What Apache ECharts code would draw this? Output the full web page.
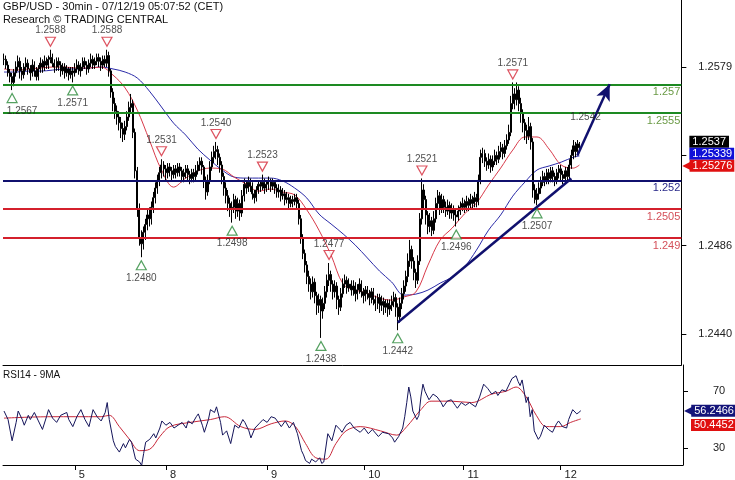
<!DOCTYPE html>
<html><head><meta charset="utf-8">
<script src="https://cdn.jsdelivr.net/npm/echarts@6/dist/echarts.min.js"></script>
<style>html,body{margin:0;padding:0;background:#fff}#c{width:735px;height:480px}</style>
</head><body><div id="c"></div>
<script>
// ---- data ----
const closes=[1.2583,1.2580,1.2576,1.2574,1.2571,1.2576,1.2579,1.2582,1.2577,1.2575,
1.2579,1.2581,1.2578,1.2576,1.2580,1.2577,1.2574,1.2578,1.2581,1.2579,
1.2582,1.2580,1.2583,1.2584,1.2581,1.2579,1.2582,1.2580,1.2577,1.2579,
1.2576,1.2578,1.2575,1.2577,1.2576,1.2578,1.2580,1.2577,1.2579,1.2582,
1.2580,1.2578,1.2581,1.2583,1.2580,1.2582,1.2584,1.2582,1.2580,1.2583,
1.2581,1.2585,1.2577,1.2566,1.2560,1.2556,1.2553,1.2550,1.2547,1.2544,
1.2548,1.2553,1.2558,1.2560,1.2545,1.2525,1.2505,1.2490,1.2487,1.2493,
1.2497,1.2502,1.2500,1.2506,1.2511,1.2516,1.2520,1.2524,1.2528,1.2526,
1.2524,1.2527,1.2525,1.2523,1.2526,1.2524,1.2527,1.2525,1.2522,1.2524,
1.2526,1.2523,1.2521,1.2524,1.2522,1.2525,1.2528,1.2530,1.2527,1.2520,
1.2514,1.2520,1.2527,1.2532,1.2535,1.2536,1.2532,1.2528,1.2522,1.2516,
1.2512,1.2508,1.2505,1.2506,1.2510,1.2504,1.2508,1.2503,1.2512,1.2518,
1.2516,1.2519,1.2517,1.2513,1.2511,1.2515,1.2518,1.2517,1.2519,1.2516,
1.2518,1.2520,1.2517,1.2519,1.2516,1.2514,1.2515,1.2512,1.2513,1.2510,
1.2511,1.2508,1.2510,1.2509,1.2511,1.2508,1.2500,1.2490,1.2482,1.2476,
1.2470,1.2466,1.2462,1.2467,1.2460,1.2455,1.2458,1.2452,1.2456,1.2462,
1.2468,1.2471,1.2466,1.2462,1.2465,1.2458,1.2454,1.2461,1.2466,1.2468,
1.2464,1.2466,1.2463,1.2465,1.2461,1.2463,1.2466,1.2462,1.2460,1.2463,
1.2461,1.2459,1.2462,1.2458,1.2456,1.2459,1.2455,1.2457,1.2454,1.2456,
1.2453,1.2455,1.2457,1.2459,1.2454,1.2449,1.2456,1.2461,1.2465,1.2470,
1.2478,1.2484,1.2478,1.2472,1.2468,1.2478,1.2500,1.2515,1.2510,1.2502,
1.2496,1.2499,1.2494,1.2500,1.2508,1.2512,1.2505,1.2510,1.2506,1.2504,
1.2507,1.2503,1.2505,1.2502,1.2501,1.2504,1.2506,1.2508,1.2506,1.2509,
1.2507,1.2510,1.2508,1.2511,1.2509,1.2520,1.2532,1.2534,1.2530,1.2528,
1.2531,1.2527,1.2530,1.2533,1.2531,1.2535,1.2537,1.2534,1.2538,1.2541,
1.2545,1.2560,1.2565,1.2562,1.2567,1.2560,1.2555,1.2550,1.2546,1.2543,
1.2548,1.2540,1.2515,1.2510,1.2513,1.2516,1.2519,1.2522,1.2520,1.2524,
1.2521,1.2525,1.2522,1.2520,1.2524,1.2526,1.2523,1.2521,1.2525,1.2522,
1.2528,1.2533,1.2538,1.2535,1.2539,1.2537];
const highs=[1.2586,1.2585,1.2582,1.2578,1.2576,1.2578,1.2582,1.2585,1.2584,1.2579,
1.2581,1.2584,1.2583,1.2580,1.2583,1.2582,1.2579,1.2580,1.2584,1.2583,
1.2585,1.2584,1.2585,1.2588,1.2586,1.2583,1.2584,1.2584,1.2582,1.2581,
1.2581,1.2580,1.2579,1.2579,1.2579,1.2581,1.2583,1.2582,1.2581,1.2584,
1.2584,1.2582,1.2583,1.2586,1.2585,1.2584,1.2586,1.2586,1.2584,1.2585,
1.2585,1.2588,1.2587,1.2578,1.2568,1.2563,1.2559,1.2556,1.2553,1.2550,
1.2551,1.2556,1.2561,1.2565,1.2562,1.2547,1.2527,1.2508,1.2494,1.2496,
1.2500,1.2505,1.2506,1.2509,1.2514,1.2519,1.2523,1.2527,1.2531,1.2530,
1.2528,1.2529,1.2529,1.2527,1.2528,1.2528,1.2529,1.2529,1.2527,1.2526,
1.2528,1.2528,1.2525,1.2526,1.2526,1.2528,1.2530,1.2532,1.2532,1.2528,
1.2522,1.2523,1.2530,1.2535,1.2538,1.2540,1.2538,1.2534,1.2530,1.2524,
1.2519,1.2515,1.2511,1.2509,1.2513,1.2512,1.2511,1.2510,1.2515,1.2521,
1.2520,1.2522,1.2521,1.2519,1.2515,1.2517,1.2520,1.2520,1.2523,1.2521,
1.2520,1.2522,1.2521,1.2521,1.2520,1.2518,1.2518,1.2517,1.2516,1.2515,
1.2514,1.2513,1.2512,1.2512,1.2513,1.2513,1.2510,1.2502,1.2492,1.2484,
1.2478,1.2473,1.2469,1.2470,1.2469,1.2462,1.2461,1.2460,1.2459,1.2465,
1.2471,1.2477,1.2473,1.2468,1.2468,1.2467,1.2460,1.2464,1.2469,1.2471,
1.2470,1.2469,1.2468,1.2468,1.2467,1.2466,1.2469,1.2468,1.2464,1.2465,
1.2465,1.2463,1.2464,1.2464,1.2460,1.2461,1.2461,1.2460,1.2459,1.2458,
1.2458,1.2458,1.2460,1.2462,1.2461,1.2456,1.2459,1.2464,1.2468,1.2473,
1.2482,1.2489,1.2486,1.2480,1.2474,1.2481,1.2503,1.2521,1.2518,1.2512,
1.2504,1.2503,1.2501,1.2504,1.2511,1.2515,1.2514,1.2513,1.2512,1.2509,
1.2510,1.2509,1.2508,1.2507,1.2505,1.2507,1.2509,1.2511,1.2510,1.2512,
1.2511,1.2513,1.2512,1.2514,1.2513,1.2523,1.2536,1.2537,1.2536,1.2532,
1.2534,1.2533,1.2533,1.2536,1.2535,1.2538,1.2540,1.2539,1.2541,1.2544,
1.2549,1.2564,1.2571,1.2568,1.2571,1.2569,1.2563,1.2557,1.2552,1.2549,
1.2553,1.2550,1.2542,1.2518,1.2516,1.2519,1.2522,1.2525,1.2524,1.2526,
1.2526,1.2527,1.2527,1.2524,1.2526,1.2528,1.2528,1.2525,1.2527,1.2527,
1.2531,1.2536,1.2541,1.2540,1.2541,1.2540];
const lows=[1.2580,1.2578,1.2574,1.2571,1.2567,1.2569,1.2574,1.2577,1.2573,1.2572,
1.2573,1.2577,1.2575,1.2572,1.2574,1.2574,1.2572,1.2572,1.2576,1.2576,
1.2577,1.2578,1.2578,1.2581,1.2579,1.2576,1.2577,1.2577,1.2574,1.2575,
1.2573,1.2574,1.2572,1.2573,1.2571,1.2574,1.2576,1.2575,1.2574,1.2577,
1.2578,1.2575,1.2576,1.2579,1.2578,1.2578,1.2580,1.2579,1.2577,1.2578,
1.2579,1.2579,1.2574,1.2563,1.2556,1.2552,1.2549,1.2546,1.2542,1.2540,
1.2541,1.2546,1.2551,1.2555,1.2542,1.2521,1.2501,1.2486,1.2480,1.2484,
1.2489,1.2494,1.2496,1.2497,1.2503,1.2508,1.2513,1.2517,1.2521,1.2522,
1.2520,1.2521,1.2522,1.2520,1.2521,1.2521,1.2522,1.2522,1.2519,1.2519,
1.2521,1.2520,1.2518,1.2519,1.2519,1.2520,1.2523,1.2525,1.2523,1.2516,
1.2510,1.2512,1.2518,1.2525,1.2529,1.2531,1.2528,1.2524,1.2518,1.2512,
1.2508,1.2504,1.2501,1.2498,1.2503,1.2500,1.2501,1.2499,1.2501,1.2509,
1.2513,1.2514,1.2514,1.2510,1.2508,1.2509,1.2513,1.2514,1.2515,1.2513,
1.2514,1.2515,1.2514,1.2515,1.2513,1.2511,1.2511,1.2509,1.2510,1.2507,
1.2508,1.2505,1.2506,1.2506,1.2507,1.2505,1.2497,1.2487,1.2479,1.2472,
1.2466,1.2462,1.2458,1.2459,1.2456,1.2450,1.2451,1.2438,1.2448,1.2453,
1.2459,1.2465,1.2462,1.2458,1.2459,1.2453,1.2450,1.2452,1.2459,1.2464,
1.2461,1.2462,1.2460,1.2460,1.2457,1.2458,1.2461,1.2459,1.2456,1.2457,
1.2458,1.2455,1.2456,1.2455,1.2452,1.2453,1.2451,1.2452,1.2450,1.2451,
1.2449,1.2450,1.2452,1.2454,1.2449,1.2442,1.2446,1.2453,1.2458,1.2462,
1.2467,1.2475,1.2474,1.2468,1.2464,1.2466,1.2476,1.2497,1.2505,1.2497,
1.2492,1.2493,1.2491,1.2492,1.2498,1.2505,1.2502,1.2503,1.2503,1.2501,
1.2502,1.2500,1.2500,1.2499,1.2496,1.2499,1.2502,1.2504,1.2503,1.2504,
1.2504,1.2505,1.2505,1.2506,1.2506,1.2507,1.2518,1.2529,1.2527,1.2525,
1.2526,1.2524,1.2525,1.2528,1.2528,1.2529,1.2532,1.2531,1.2532,1.2536,
1.2539,1.2543,1.2557,1.2557,1.2559,1.2556,1.2550,1.2545,1.2541,1.2539,
1.2541,1.2536,1.2511,1.2508,1.2507,1.2510,1.2513,1.2517,1.2517,1.2518,
1.2518,1.2519,1.2519,1.2517,1.2518,1.2521,1.2520,1.2518,1.2519,1.2519,
1.2520,1.2526,1.2531,1.2532,1.2533,1.2535];

const redMA=[[0,1.2578],[6,1.25774],[12,1.2578],[18,1.25785],[24,1.2579],[30,1.2579],[36,1.25785],[42,1.25785],[48,1.2579],
[54,1.25748],[60,1.25681],[66,1.25566],[72,1.2541],[78,1.25254],[84,1.25165],[90,1.25212],[96,1.25249],[102,1.25264],
[108,1.25259],[114,1.25217],[120,1.25181],[126,1.25144],[132,1.25155],[138,1.25139],[144,1.25124],[150,1.25046],
[156,1.24941],[162,1.24811],[168,1.2466],[174,1.24629],[180,1.24613],[186,1.24587],[192,1.24577],[198,1.24593],
[204,1.24619],[210,1.24759],[216,1.24889],[222,1.24952],[228,1.25025],[234,1.25082],[240,1.25176],[246,1.25264],
[252,1.25358],[258,1.25426],[264,1.25426],[270,1.25363],[276,1.2528],[282,1.25264],[285,1.2528]];
const blueMA=[[0,1.25764],[6,1.25764],[12,1.25769],[18,1.25769],[24,1.25774],[30,1.2578],[36,1.2578],[42,1.25785],[48,1.2579],
[54,1.2578],[60,1.25764],[66,1.25733],[72,1.25665],[78,1.25582],[84,1.25498],[90,1.25436],[96,1.25363],[102,1.25306],
[108,1.25254],[114,1.25217],[120,1.25212],[126,1.25212],[132,1.25212],[138,1.25197],[144,1.2516],[150,1.25108],
[156,1.25025],[162,1.24973],[168,1.24921],[174,1.24863],[180,1.24796],[186,1.24728],[192,1.24671],[198,1.24603],
[204,1.24608],[210,1.24629],[216,1.24665],[222,1.24697],[228,1.24749],[234,1.24837],[240,1.24941],[246,1.2502],
[252,1.25118],[258,1.25191],[264,1.25254],[270,1.25275],[276,1.25295],[282,1.25321],[285,1.25327]];

const rsi=[[0,56],[2,50],[4,35],[6,48],[7,56],[9,50],[10,46],[12,53],[13,50],[15,55],[17,49],[19,43],[21,52],[22,57],[24,51],
[26,48],[28,53],[31,55],[32,50],[34,45],[36,52],[38,57],[40,50],[42,45],[44,57],[46,52],[48,49],[50,55],[51,62],[52,50],
[54,35],[55,31],[57,27],[59,33],[60,30],[62,36],[63,34],[65,22],[67,20],[68,17.5],[69,26],[70,34],[72,36],[74,40],[75,37],
[77,44],[78,49],[80,46],[82,48],[84,44],[86,46],[88,48],[90,44],[91,49],[93,47],[95,52],[96,54],[98,46],[99,41],[101,50],
[102,57],[104,55],[105,59],[107,48],[108,39],[110,42],[112,33],[114,46],[116,44],[118,50],[119,48],[121,42],[122,37],
[124,44],[126,47],[128,50],[130,48],[132,52],[134,51],[136,47],[137,45],[139,49],[141,44],[143,48],[145,40],[147,28],
[148,25],[149,21],[151,19],[152,22],[154,20],[156,23],[157,19],[158,20],[160,40],[162,35],[164,46],[166,43],[167,41],
[169,46],[171,48],[173,44],[176,41],[178,44],[180,40],[182,43],[185,38],[187,41],[190,40],[192,37],[193,34],[195,38],
[197,44],[198,52],[199,62],[200,73],[201,66],[202,56],[204,50],[205,53],[206,66],[207,75],[208,70],[210,64],[212,68],
[214,66],[216,62],[217,59],[219,63],[221,64],[223,60],[224,58],[226,62],[228,60],[230,62],[233,59],[235,66],[237,75],
[239,72],[241,68],[243,70],[244,67],[246,71],[248,70],[250,76],[251,79],[253,81],[254,77],[255,74],[256,78],[258,62],
[259,66],[260,52],[261,57],[262,42],[264,36],[265,38],[267,46],[269,43],[271,41],[273,47],[274,49],[276,45],[278,44],
[279,50],[281,57],[283,54],[284,55],[285,56.2466]];
const rsiMA=[[0,51],[23,52],[48,52],[52,53],[57,45],[62,36],[67,28],[72,29],[77,38],[82,45],[92,48],[102,50],[109,52],
[117,45],[124,43],[132,47],[139,49],[144,45],[149,33],[154,23],[159,22],[164,33],[169,42],[176,45],[186,42],[194,39],
[199,45],[206,57],[211,63],[221,63],[231,62],[241,68],[248,70],[253,73],[258,66],[263,53],[268,45],[275,45],[280,48],[285,50.4452]];

const slotCount=336;
const dayTickIndex=[35,80,130,178,227,275];
const dayTickLabels=['5','8','9','10','11','12'];
const priceTicks=[1.2440,1.2486,1.2533,1.2579];
const rsiTicks=[30,70];
const levelValues=[1.257,1.2555,1.252,1.2505,1.249];
const levelLabels=['1.257','1.2555','1.252','1.2505','1.249'];
const swingHighs=[[23,1.2588],[51,1.2588],[78,1.2531],[105,1.2540],[128,1.2523],[161,1.2477],[207,1.2521],[252,1.2571]];
const swingLows=[[4,1.2567],[34,1.2571],[68,1.2480],[113,1.2498],[157,1.2438],[195,1.2442],[224,1.2496],[264,1.2507]];
const trendLine=[[195,1.2446],[281,1.2521]];
const projection=[[284,1.2533],[300,1.2570]];
const targetNote=[[288,1.2553]];
const targetText='1.2542';
const lastPrice=1.2537, lastBlue=1.25339, lastRed=1.25276;
const lastRsi=56.2466, lastRsiMA=50.4452;

// ---- styles ----
const FONT='Liberation Sans';
const GREEN='#1d8a22', GREEN_T='#6a9a45', NAVY='#10106e', RED='#d4202c', RED_T='#d4505a';
const levelLine=[GREEN,GREEN,NAVY,RED,RED];
const levelText=[GREEN_T,GREEN_T,'#2a2a8a',RED_T,RED_T];
const HIDDEN={color:'rgba(0,0,0,0)',width:1,type:'solid'};

const cats=Array.from({length:slotCount},(_,i)=>String(i));
const candles=closes.map((c,i)=>[i===0?c:closes[i-1],c,lows[i],highs[i]]);
const isDay=(i)=>dayTickIndex.indexOf(i)>=0;
const lowItems=swingLows.map((d,k)=>k===0?{value:d,label:{offset:[10,0]}}:{value:d});

const chart=echarts.init(document.getElementById('c'),null,{renderer:'canvas'});
chart.setOption({
  animation:false,
  backgroundColor:'#fff',
  textStyle:{fontFamily:FONT},
  title:[
    {text:'GBP/USD - 30min - 07/12/19 05:07:52 (CET)',left:3,top:1,padding:0,textStyle:{fontSize:11,fontWeight:'normal',color:'#111',fontFamily:FONT}},
    {text:'Research © TRADING CENTRAL',left:3,top:14,padding:0,textStyle:{fontSize:11,fontWeight:'normal',color:'#111',fontFamily:FONT}},
    {text:'RSI14 - 9MA',left:3,top:370,padding:0,textStyle:{fontSize:10,fontWeight:'normal',color:'#111',fontFamily:FONT}}
  ],
  grid:[
    {left:3,top:0,width:680,height:365},
    {left:3,top:365,width:680,height:100}
  ],
  xAxis:[
    {type:'category',gridIndex:0,data:cats,boundaryGap:true,
     axisLine:{show:true,lineStyle:{color:'#000',width:1}},axisTick:{show:false},axisLabel:{show:false},splitLine:{show:false}},
    {type:'category',gridIndex:1,data:cats,boundaryGap:true,
     axisLine:{show:true,lineStyle:{color:'#000',width:1}},
     axisTick:{show:true,alignWithLabel:true,length:5,interval:(i)=>isDay(i),lineStyle:{color:'#000'}},
     axisLabel:{show:true,interval:(i)=>isDay(i),formatter:(v,i)=>dayTickLabels[dayTickIndex.indexOf(Number(v))],
       align:'left',padding:[0,0,0,4],margin:4,fontSize:11,color:'#222',fontFamily:FONT},
     splitLine:{show:false}}
  ],
  yAxis:[
    {type:'value',gridIndex:0,position:'right',min:1.24239,max:1.26139,scale:true,
     axisLine:{show:true,lineStyle:{color:'#000',width:1}},
     axisTick:{show:true,length:5,customValues:priceTicks,lineStyle:{color:'#000'}},
     axisLabel:{show:true,customValues:priceTicks,formatter:(v)=>v.toFixed(4),margin:17,fontSize:11,color:'#222',fontFamily:FONT},
     splitLine:{show:false}},
    {type:'value',gridIndex:1,position:'right',min:17.86,max:88.57,
     axisLine:{show:true,lineStyle:{color:'#000',width:1}},
     axisTick:{show:true,length:5,customValues:rsiTicks,lineStyle:{color:'#000'}},
     axisLabel:{show:true,customValues:rsiTicks,formatter:(v)=>String(Math.round(v)),margin:30,fontSize:11,color:'#222',fontFamily:FONT},
     splitLine:{show:false}}
  ],
  series:[
    {type:'line',name:'blueMA',xAxisIndex:0,yAxisIndex:0,data:blueMA,showSymbol:false,smooth:0.35,z:2,
     lineStyle:{color:'#2a2aa8',width:1},
     markLine:{silent:true,symbol:['none','none'],animation:false,precision:6,z:5,
       data:[
         ...levelValues.map((v,k)=>({yAxis:v,lineStyle:{color:levelLine[k],width:2,type:'solid'},
            label:{show:true,position:'insideEndBottom',formatter:levelLabels[k],color:levelText[k],fontSize:11,distance:[1,2],fontFamily:FONT}})),
         [{coord:trendLine[0],symbol:'none'},{coord:trendLine[1],symbol:'none',lineStyle:{color:NAVY,width:2.5,type:'solid'},label:{show:false}}],
         [{coord:projection[0],symbol:'none'},{coord:projection[1],symbol:'arrow',symbolSize:[11,16],lineStyle:{color:NAVY,width:2.5,type:'solid'},label:{show:false}}]
       ]}},
    {type:'line',name:'redMA',xAxisIndex:0,yAxisIndex:0,data:redMA,showSymbol:false,smooth:0.35,z:2,
     lineStyle:{color:'#d83a4a',width:1},
     markLine:{silent:true,symbol:['none','none'],animation:false,precision:6,z:7,
       data:[
         {yAxis:lastPrice,lineStyle:HIDDEN,label:{show:true,position:'end',distance:8,formatter:lastPrice.toFixed(4),
            backgroundColor:'#000',color:'#fff',padding:[1,3,0,3],fontSize:11,verticalAlign:'bottom',fontFamily:FONT}},
         {yAxis:lastBlue,lineStyle:HIDDEN,label:{show:true,position:'end',distance:8,formatter:lastBlue.toFixed(5),
            backgroundColor:'#1010d8',color:'#fff',padding:[1,2,0,3],fontSize:11,fontFamily:FONT}},
         {yAxis:lastRed,lineStyle:HIDDEN,label:{show:true,position:'end',distance:1,
            formatter:'{a|◀}{b|'+lastRed.toFixed(5)+'}',
            rich:{a:{color:'#e01010',fontSize:12,padding:[0,-2,0,0],fontFamily:'DejaVu Sans'},b:{backgroundColor:'#e01010',color:'#fff',padding:[1,2,0,3],fontSize:11,fontFamily:FONT}}}}
       ]}},
    {type:'candlestick',name:'GBPUSD',xAxisIndex:0,yAxisIndex:0,data:candles,barWidth:1.5,z:3,
     itemStyle:{color:'#000',color0:'#000',borderColor:'#000',borderColor0:'#000',borderWidth:1}},
    {type:'scatter',name:'swingHighs',xAxisIndex:0,yAxisIndex:0,data:swingHighs,z:6,
     symbol:'triangle',symbolRotate:180,symbolSize:[10,9],symbolOffset:[0,-8],
     itemStyle:{color:'#fff',borderColor:'#d42838',borderWidth:1.2},
     label:{show:true,position:'top',distance:1,formatter:(p)=>p.value[1].toFixed(4),color:'#222',fontSize:10,fontFamily:FONT}},
    {type:'scatter',name:'swingLows',xAxisIndex:0,yAxisIndex:0,data:lowItems,z:6,
     symbol:'triangle',symbolSize:[10,9],symbolOffset:[0,8],
     itemStyle:{color:'#fff',borderColor:'#2a8a3a',borderWidth:1.2},
     label:{show:true,position:'bottom',distance:3,formatter:(p)=>p.value[1].toFixed(4),color:'#222',fontSize:10,fontFamily:FONT}},
    {type:'scatter',name:'target',xAxisIndex:0,yAxisIndex:0,data:targetNote,z:6,symbolSize:0,
     label:{show:true,position:'inside',formatter:targetText,color:'#222',fontSize:10,fontFamily:FONT}},
    {type:'line',name:'rsiMA',xAxisIndex:1,yAxisIndex:1,data:rsiMA,showSymbol:false,smooth:0.35,z:2,
     lineStyle:{color:'#c8283a',width:1}},
    {type:'line',name:'rsi',xAxisIndex:1,yAxisIndex:1,data:rsi,showSymbol:false,z:3,
     lineStyle:{color:'#14145a',width:1},
     markLine:{silent:true,symbol:['none','none'],animation:false,precision:6,z:7,
       data:[
         {yAxis:lastRsi,lineStyle:HIDDEN,label:{show:true,position:'end',distance:1,
            formatter:'{a|◀}{b|'+lastRsi.toFixed(4)+'}',
            rich:{a:{color:'#14147a',fontSize:12,padding:[0,-2,0,0],fontFamily:'DejaVu Sans'},b:{backgroundColor:'#14147a',color:'#fff',padding:[1,2,0,3],fontSize:11,fontFamily:FONT}}}},
         {yAxis:lastRsiMA,lineStyle:HIDDEN,label:{show:true,position:'end',distance:8,formatter:lastRsiMA.toFixed(4),
            backgroundColor:'#e01010',color:'#fff',padding:[1,2,0,3],fontSize:11,verticalAlign:'top',fontFamily:FONT}}
       ]}}
  ]
});
</script></body></html>
